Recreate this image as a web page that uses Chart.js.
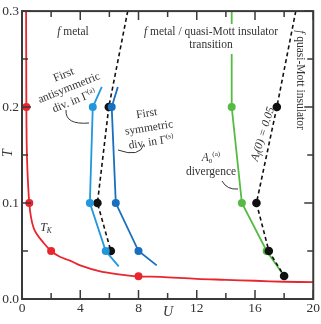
<!DOCTYPE html>
<html>
<head>
<meta charset="utf-8">
<script src="https://cdn.jsdelivr.net/npm/chart.js@4.4.1/dist/chart.umd.min.js"></script>
<style>
  html, body { margin: 0; padding: 0; background: #fff; }
  #wrap { width: 321px; height: 324px; }
</style>
</head>
<body>
<div id="wrap"><canvas id="phase"></canvas></div>
<script>
// T_K curve (red)
const kondoU = [0.28, 0.29, 0.3, 0.33, 0.4, 0.5, 0.62, 0.8, 1.0, 1.4, 2, 2.6, 3.3, 4, 5.3, 6.5, 8, 9.5, 12, 14, 16, 18, 20]
const kondoT = [0.3, 0.25, 0.2, 0.155, 0.125, 0.1, 0.085, 0.074, 0.068, 0.06, 0.05, 0.044, 0.04, 0.035, 0.029, 0.026, 0.0236, 0.023, 0.021, 0.02, 0.019, 0.018, 0.0175]
const kondoDotU = [0.3, 0.5, 2, 8]
const kondoDotT = [0.2, 0.1, 0.05, 0.0236]

// first antisymmetric divergence (light blue)
const antiU = [5.48, 4.86, 4.66, 5.75, 6.64]
const antiT = [0.221, 0.2, 0.1, 0.05, 0.034]
// first symmetric divergence (dark blue)
const symU = [6.58, 6.16, 6.44, 8.0, 9.25]
const symT = [0.221, 0.2, 0.1, 0.05, 0.035]

// A_f(0) = 0.05 contours (dashed)
const af1U = [7.26, 5.96, 5.18, 6.1]
const af1T = [0.3, 0.2, 0.1, 0.05]
const af2U = [18.8, 17.5, 16.1, 16.95, 18.0]
const af2T = [0.3, 0.2, 0.1, 0.05, 0.024]

// A_0^(a) divergence (green)
const a0U = [14.4, 14.4, 15.1, 16.8, 18.0]
const a0T = [0.3, 0.2, 0.1, 0.05, 0.024]

const xTicks = [0, 4, 8, 12, 16, 20]
const yTicks = [0.0, 0.1, 0.2, 0.3]

const SERIF = '"Liberation Serif", "DejaVu Serif", serif'
const pts = (us, ts) => us.map((u, i) => ({x: u, y: ts[i]}))
const inner = n => ctx => (ctx.dataIndex === 0 || ctx.dataIndex === n - 1) ? 0 : 4
const notFirst = ctx => ctx.dataIndex === 0 ? 0 : 4.3

function font(size, italic) {
    return (italic ? 'italic ' : '') + size + 'px ' + SERIF
}

// draws a line of mixed text segments centred at (0,0)
function richLine(ctx, segs, size, y) {
    let w = 0
    segs.forEach(s => {
        ctx.font = font(s.small ? size * 0.62 : size, s.it)
        s.w = ctx.measureText(s.t).width
        w += s.w
    })
    let x = -w / 2
    segs.forEach(s => {
        ctx.font = font(s.small ? size * 0.62 : size, s.it)
        ctx.fillText(s.t, x, y + (s.dy || 0))
        x += s.w
    })
    return w
}

function label(ctx, x, y, angle, lines, size, lh, bg) {
    ctx.save()
    ctx.translate(x, y)
    ctx.rotate(angle * Math.PI / 180)
    ctx.textBaseline = 'middle'
    ctx.textAlign = 'left'
    const y0 = -(lines.length - 1) * lh / 2
    if (bg) {
        ctx.fillStyle = '#fff'
        ctx.fillRect(bg[0], bg[1], bg[2], bg[3])
    }
    ctx.fillStyle = '#333'
    lines.forEach((segs, i) => richLine(ctx, segs, size, y0 + i * lh))
    ctx.restore()
}

function leader(ctx, a, c, b) {
    ctx.save()
    ctx.strokeStyle = '#333'
    ctx.lineWidth = 1
    ctx.beginPath()
    ctx.moveTo(a[0], a[1])
    ctx.quadraticCurveTo(c[0], c[1], b[0], b[1])
    ctx.stroke()
    ctx.restore()
}

const frame = {
    id: 'frame',
    afterDatasetsDraw(chart) {
        const {ctx, chartArea: ca, scales} = chart
        ctx.save()
        ctx.strokeStyle = '#3a3a3a'
        ctx.lineWidth = 1.5
        // inward ticks on all four sides
        scales.x.ticks.forEach(t => {
            const px = scales.x.getPixelForValue(t.value)
            const len = t.value % 4 === 0 ? 9 : 6
            ctx.beginPath()
            ctx.moveTo(px, ca.bottom); ctx.lineTo(px, ca.bottom - len)
            ctx.moveTo(px, ca.top); ctx.lineTo(px, ca.top + len)
            ctx.stroke()
        })
        scales.y.ticks.forEach(t => {
            const py = scales.y.getPixelForValue(t.value)
            const major = Math.abs(t.value * 10 - Math.round(t.value * 10)) < 1e-6
            const len = major ? 9 : 6
            ctx.beginPath()
            ctx.moveTo(ca.left, py); ctx.lineTo(ca.left + len, py)
            ctx.moveTo(ca.right, py); ctx.lineTo(ca.right - len, py)
            ctx.stroke()
        })
        ctx.lineWidth = 2
        ctx.strokeRect(ca.left, ca.top, ca.right - ca.left, ca.bottom - ca.top)
        ctx.restore()

        // annotations
        const S = 11.5
        label(ctx, 73, 32, 0, [[{t: 'f', it: true}, {t: ' metal'}]], S, 13)
        label(ctx, 211, 38, 0, [
            [{t: 'f', it: true}, {t: ' metal / quasi-Mott insulator'}],
            [{t: 'transition'}]
        ], S, 13, [-45, -14, 90, 30])
        label(ctx, 300, 80, 90, [[{t: 'f', it: true}, {t: ' quasi-Mott insulator'}]], S, 13)
        label(ctx, 263, 134, -72.5, [[
            {t: 'A', it: true}, {t: 'f', it: true, small: true, dy: 3},
            {t: '(0) = 0.05', it: true}
        ]], S, 13)
        label(ctx, 69, 88, -22, [
            [{t: 'First'}],
            [{t: 'antisymmetric'}],
            [{t: 'div. in Γ'}, {t: '(a)', small: true, dy: -3}]
        ], S, 14)
        label(ctx, 149, 128, -9, [
            [{t: 'First'}],
            [{t: 'symmetric'}],
            [{t: 'div. in Γ'}, {t: '(s)', small: true, dy: -3}]
        ], S, 14.5)
        label(ctx, 211, 165, 0, [
            [{t: 'A', it: true}, {t: '0', small: true, dy: 3}, {t: '(a)', small: true, dy: -4}],
            [{t: 'divergence'}]
        ], S, 14)
        label(ctx, 46, 228, 0, [[{t: 'T', it: true}, {t: 'K', it: true, small: true, dy: 3}]], 12, 13)
        label(ctx, 168, 312, 0, [[{t: 'U', it: true}]], 14, 14)
        label(ctx, 8, 153, -90, [[{t: 'T', it: true}]], 14, 14)

        leader(ctx, [66, 110], [65, 125], [89, 123])
        leader(ctx, [118, 150], [140, 158], [144, 144])
        leader(ctx, [222, 181], [227, 190], [238, 189])
    }
}

new Chart('phase', {
    type: 'scatter',
    data: {
        datasets: [
            {data: pts(antiU, antiT), showLine: true, borderColor: '#2197dc', backgroundColor: '#2197dc',
                borderWidth: 1.8, pointRadius: inner(antiU.length), pointBorderWidth: 0},
            {data: pts(symU, symT), showLine: true, borderColor: '#176fbd', backgroundColor: '#176fbd',
                borderWidth: 1.8, pointRadius: inner(symU.length), pointBorderWidth: 0},
            {data: pts(af1U, af1T), showLine: true, borderColor: '#111', backgroundColor: '#111',
                borderWidth: 1.6, borderDash: [4, 3], pointRadius: notFirst, pointBorderWidth: 0},
            {data: pts(af2U, af2T), showLine: true, borderColor: '#111', backgroundColor: '#111',
                borderWidth: 1.6, borderDash: [4, 3], pointRadius: notFirst, pointBorderWidth: 0},
            {data: pts(a0U, a0T), showLine: true, borderColor: '#56bb45', backgroundColor: '#56bb45',
                borderWidth: 1.8, pointRadius: inner(a0U.length), pointBorderWidth: 0},
            {data: pts(kondoDotU, kondoDotT), borderColor: '#e8262d', backgroundColor: '#e8262d',
                pointRadius: 4, pointBorderWidth: 0},
            {data: pts(kondoU, kondoT), showLine: true, borderColor: '#e8262d', borderWidth: 1.8,
                tension: 0.35, pointRadius: 0}
        ]
    },
    options: {
        responsive: true,
        maintainAspectRatio: false,
        animation: false,
        events: [],
        layout: {padding: {left: 0, right: 7, top: 7, bottom: 0}},
        plugins: {legend: {display: false}, tooltip: {enabled: false}},
        scales: {
            x: {
                type: 'linear', min: 0, max: 20,
                afterFit: s => { s.height = 25 },
                grid: {display: false, drawTicks: false},
                border: {display: false},
                ticks: {
                    stepSize: 2, padding: 1, color: '#333', maxRotation: 0, autoSkip: false,
                    font: {family: SERIF, size: 13.5},
                    callback: v => xTicks.includes(v) ? String(v) : ''
                }
            },
            y: {
                type: 'linear', min: 0, max: 0.3,
                afterFit: s => { s.width = 22 },
                grid: {display: false, drawTicks: false},
                border: {display: false},
                ticks: {
                    stepSize: 0.05, padding: 3, color: '#333', autoSkip: false,
                    font: {family: SERIF, size: 13.5},
                    callback: v => {
                        const hit = yTicks.find(t => Math.abs(t - v) < 1e-6)
                        return hit === undefined ? '' : hit.toFixed(1)
                    }
                }
            }
        }
    },
    plugins: [frame]
})
</script>
</body>
</html>
